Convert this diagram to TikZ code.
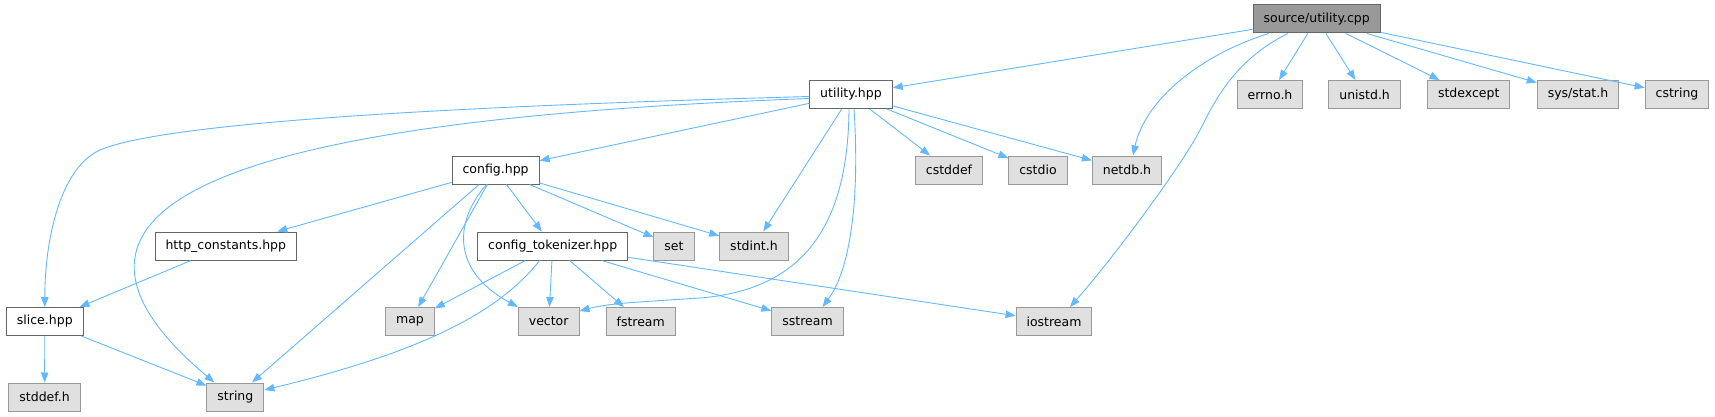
\documentclass[tikz,border=0pt]{standalone}
\usepackage{fontspec}
\setmainfont{DejaVu Sans}
\usepackage{xcolor}
\usetikzlibrary{arrows.meta}
\definecolor{edgeblue}{HTML}{63B8FF}
\definecolor{maingray}{HTML}{999999}
\definecolor{sysgray}{HTML}{E0E0E0}
\definecolor{darkframe}{HTML}{666666}
\definecolor{lightframe}{HTML}{999999}

\begin{document}
\begin{tikzpicture}[
  x=1pt, y=-1pt,
  hdr/.style={draw=darkframe, fill=white, line width=1pt, minimum height=28pt,
    inner xsep=10.5pt, inner ysep=0pt, font=\fontsize{12.5}{15}\selectfont},
  mainhdr/.style={hdr, fill=maingray},
  syshdr/.style={hdr, draw=lightframe, fill=sysgray},
  incl/.style={draw=edgeblue, line width=0.9pt, -{Triangle[length=10pt, width=7.5pt]}}
]
\useasboundingbox (0,0) rectangle (1715,417);

\node[mainhdr] (src) at (1316.7,19) {source/utility.cpp};
\node[hdr] (utilhpp) at (851,94.5) {utility.hpp};
\node[syshdr] (errno) at (1270,94.5) {errno.h};
\node[syshdr] (unistd) at (1364.6,94.5) {unistd.h};
\node[syshdr] (stdexcept) at (1468.7,94.5) {stdexcept};
\node[syshdr] (sysstat) at (1578,94.5) {sys/stat.h};
\node[syshdr] (cstring) at (1677,94.5) {cstring};
\node[hdr] (config) at (495.6,170) {config.hpp};
\node[syshdr] (cstddef) at (949,170) {cstddef};
\node[syshdr] (cstdio) at (1038,170) {cstdio};
\node[syshdr] (netdb) at (1127,170) {netdb.h};
\node[hdr] (httpconst) at (225.8,246) {http\_constants.hpp};
\node[hdr] (tokenizer) at (552.7,246) {config\_tokenizer.hpp};
\node[syshdr] (set) at (674,246) {set};
\node[syshdr] (stdint) at (754,246) {stdint.h};
\node[hdr] (slice) at (44.8,321.5) {slice.hpp};
\node[syshdr] (map) at (410,321.5) {map};
\node[syshdr] (vector) at (548.7,321.5) {vector};
\node[syshdr] (fstream) at (640.7,321.5) {fstream};
\node[syshdr] (sstream) at (807.5,321.5) {sstream};
\node[syshdr] (iostream) at (1054,321.5) {iostream};
\node[syshdr] (stddef) at (44.6,397) {stddef.h};
\node[syshdr] (string) at (235.4,397) {string};

\foreach \dst in {utilhpp, errno, unistd, stdexcept, sysstat, cstring}
  \draw[incl] (src) -- (\dst);
\draw[incl] ([xshift=-48pt]src.south) .. controls (1200,55) and (1145,100) .. ([xshift=6pt]netdb.north);
\draw[incl] ([xshift=-29pt]src.south) .. controls (1235,60) and (1215,100) .. (1200,130)
  .. controls (1185,160) and (1120,250) .. ([xshift=16pt]iostream.north);

\foreach \dst in {config, cstddef, cstdio, netdb, stdint}
  \draw[incl] (utilhpp) -- (\dst);
\draw[incl] ([yshift=-2pt]utilhpp.west) .. controls (500,105) and (170,120) .. (100,150)
  .. controls (60,168) and (44.8,240) .. (slice.north);
\draw[incl] ([yshift=-4pt]utilhpp.west) .. controls (500,110) and (250,140) .. (165,210)
  .. controls (105,260) and (140,320) .. ([xshift=-21pt]string.north);
\draw[incl] ([xshift=-2pt]utilhpp.south) .. controls (848,230) and (800,290) .. (700,298)
  .. controls (640,302) and (610,303) .. ([yshift=-4pt]vector.north east);
\draw[incl] ([xshift=3pt]utilhpp.south) .. controls (860,200) and (850,270) .. ([xshift=15pt]sstream.north);

\foreach \dst in {httpconst, tokenizer, set, stdint, string, map}
  \draw[incl] (config) -- (\dst);
\draw[incl] ([xshift=-9pt]config.south) .. controls (455,220) and (450,270) .. (vector.north west);

\foreach \dst in {map, vector, fstream, sstream, iostream}
  \draw[incl] (tokenizer) -- (\dst);
\draw[incl] ([xshift=-13pt]tokenizer.south) .. controls (500,310) and (430,350) .. ([yshift=7pt]string.east);

\draw[incl] (httpconst) -- (slice);
\draw[incl] (slice) -- (stddef);
\draw[incl] (slice) -- (string);
\end{tikzpicture}
\end{document}
